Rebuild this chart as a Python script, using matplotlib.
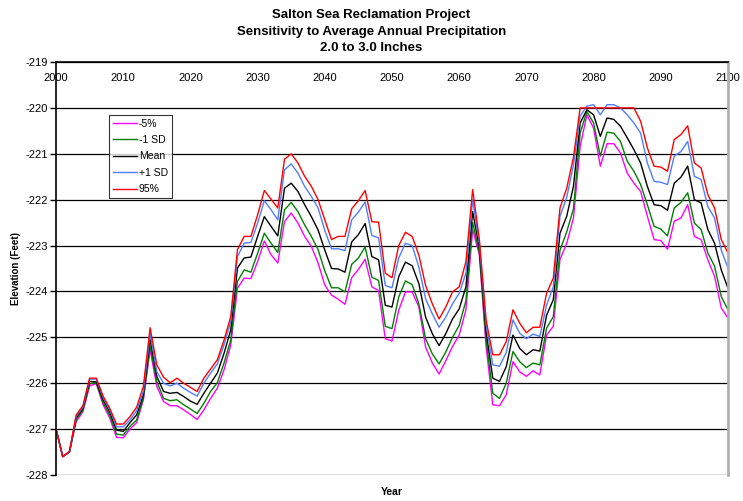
import numpy as np
import matplotlib
matplotlib.use("Agg")
import matplotlib.pyplot as plt

plt.rcParams['font.family'] = ['Liberation Sans', 'DejaVu Sans']
plt.rcParams['axes.unicode_minus'] = False

years = list(range(2000, 2101))

# 95% (red)
p95 = [-227.0, -227.6, -227.48, -226.69, -226.49, -225.89, -225.89, -226.28, -226.55, -226.89,
       -226.89, -226.73, -226.52, -226.07, -224.79, -225.6, -225.87, -225.99, -225.89, -226.0,
       -226.09, -226.18, -225.89, -225.69, -225.49, -225.06, -224.55, -223.09, -222.8, -222.8,
       -222.33, -221.8, -221.99, -222.18, -221.12, -221.0, -221.2, -221.49, -221.71, -222.0,
       -222.44, -222.87, -222.8, -222.8, -222.2, -222.02, -221.8, -222.48, -222.49, -223.6,
       -223.7, -223.0, -222.71, -222.8, -223.21, -223.87, -224.27, -224.6, -224.34, -224.01,
       -223.9, -223.35, -221.78, -222.87, -224.62, -225.38, -225.38, -225.09, -224.4, -224.69,
       -224.9, -224.78, -224.78, -224.04, -223.71, -222.18, -221.75, -221.08, -220.0, -220.0,
       -220.0, -220.0, -220.0, -220.0, -220.0, -220.0, -220.0, -220.29, -220.87, -221.27,
       -221.29, -221.38, -220.69, -220.58, -220.39, -221.2, -221.31, -221.89, -222.18, -222.87,
       -223.16]

# +1 SD (blue)
plus_sd = [-227.0, -227.6, -227.49, -226.72, -226.52, -225.91, -225.91, -226.31, -226.58, -226.95,
           -226.95, -226.8, -226.6, -226.18, -224.91, -225.75, -226.0, -226.06, -226.0, -226.11,
           -226.2, -226.28, -226.0, -225.78, -225.58, -225.16, -224.66, -223.24, -222.95, -222.93,
           -222.51, -222.02, -222.22, -222.44, -221.35, -221.22, -221.42, -221.71, -221.93, -222.18,
           -222.67, -223.07, -223.07, -223.11, -222.44, -222.27, -222.05, -222.78, -222.83, -223.87,
           -223.92, -223.27, -222.95, -223.0, -223.47, -224.16, -224.49, -224.78, -224.56, -224.27,
           -224.04, -223.6, -222.0, -222.95, -224.72, -225.6, -225.63, -225.33, -224.62, -224.91,
           -225.03, -224.93, -224.98, -224.3, -223.9, -222.36, -221.95, -221.25, -220.18, -219.96,
           -219.93, -220.15, -219.93, -219.93, -220.0, -220.15, -220.33, -220.55, -221.2, -221.6,
           -221.62, -221.67, -221.05, -220.95, -220.73, -221.49, -221.56, -222.15, -222.4, -223.1,
           -223.49]

# Mean (black)
mean = [-227.0, -227.6, -227.5, -226.75, -226.55, -225.96, -225.97, -226.36, -226.63, -227.02,
        -227.05, -226.86, -226.69, -226.25, -225.04, -225.85, -226.18, -226.22, -226.2, -226.29,
        -226.39, -226.46, -226.22, -226.0, -225.78, -225.35, -224.84, -223.49, -223.27, -223.25,
        -222.8, -222.37, -222.58, -222.79, -221.75, -221.64, -221.82, -222.11, -222.37, -222.66,
        -223.1, -223.5, -223.51, -223.58, -222.92, -222.76, -222.52, -223.24, -223.31, -224.3,
        -224.34, -223.68, -223.36, -223.44, -223.83, -224.56, -224.92, -225.18, -224.92, -224.6,
        -224.38, -223.9, -222.26, -223.05, -224.88, -225.89, -225.96, -225.64, -224.95, -225.24,
        -225.38, -225.27, -225.3, -224.52, -224.18, -222.73, -222.36, -221.71, -220.33, -220.04,
        -220.15, -220.62, -220.22, -220.25, -220.4, -220.65, -220.91, -221.2, -221.71, -222.11,
        -222.13, -222.23, -221.64, -221.51, -221.27, -222.0, -222.07, -222.65, -222.95, -223.53,
        -223.93]

# -1 SD (green)
minus_sd = [-227.0, -227.6, -227.5, -226.79, -226.59, -226.01, -225.99, -226.42, -226.7, -227.11,
            -227.13, -226.94, -226.8, -226.32, -225.19, -225.96, -226.33, -226.38, -226.36, -226.47,
            -226.56, -226.66, -226.44, -226.18, -225.99, -225.56, -225.06, -223.78, -223.53, -223.58,
            -223.17, -222.73, -222.95, -223.15, -222.22, -222.06, -222.26, -222.55, -222.8, -223.09,
            -223.55, -223.92, -223.92, -224.01, -223.41, -223.27, -223.03, -223.69, -223.76, -224.76,
            -224.81, -224.12, -223.77, -223.85, -224.27, -225.03, -225.36, -225.58, -225.32, -225.0,
            -224.74, -224.2, -222.5, -223.15, -225.05, -226.22, -226.33, -226.0, -225.31, -225.53,
            -225.66, -225.56, -225.6, -224.8, -224.55, -223.1, -222.7, -222.2, -220.55, -220.08,
            -220.33, -221.05, -220.53, -220.55, -220.73, -221.16, -221.38, -221.67, -222.11, -222.58,
            -222.64, -222.79, -222.18, -222.06, -221.85, -222.51, -222.65, -223.16, -223.45, -224.11,
            -224.4]

# -5% (magenta)
p05 = [-227.0, -227.6, -227.5, -226.84, -226.62, -226.06, -226.01, -226.47, -226.76, -227.18,
       -227.19, -227.0, -226.86, -226.36, -225.27, -226.07, -226.4, -226.49, -226.49, -226.58,
       -226.68, -226.79, -226.58, -226.33, -226.11, -225.71, -225.17, -223.93, -223.71, -223.72,
       -223.35, -222.9, -223.2, -223.38, -222.48, -222.29, -222.51, -222.8, -223.02, -223.38,
       -223.86, -224.08, -224.17, -224.28, -223.7, -223.52, -223.3, -223.9, -223.98, -225.03,
       -225.08, -224.41, -224.01, -224.01, -224.34, -225.21, -225.56, -225.8, -225.51, -225.2,
       -224.95, -224.4, -222.65, -223.2, -225.2, -226.47, -226.49, -226.25, -225.53, -225.75,
       -225.85, -225.73, -225.82, -224.95, -224.76, -223.3, -222.95, -222.4, -220.84, -220.15,
       -220.44, -221.27, -220.78, -220.78, -220.98, -221.42, -221.64, -221.82, -222.36, -222.87,
       -222.89, -223.08, -222.47, -222.4, -222.11, -222.8, -222.87, -223.31, -223.67, -224.36,
       -224.58]

series = [("-5%", p05, "#ff00ff"),
          ("-1 SD", minus_sd, "#008000"),
          ("Mean", mean, "#000000"),
          ("+1 SD", plus_sd, "#4f7fff"),
          ("95%", p95, "#ff0000")]

fig = plt.figure(figsize=(7.43, 5.01), dpi=100)
ax = fig.add_axes([0.0754, 0.0519, 0.9044, 0.8243])

for yv in range(-228, -218):
    ax.axhline(yv, color="black", lw=0.9, zorder=1)

for name, vals, col in series:
    ax.plot(years, vals, color=col, lw=1.0, label=name, zorder=2)

ax.set_xlim(2000, 2100)
ax.set_ylim(-228, -219)
ax.set_xticks(range(2000, 2101, 10))
ax.set_yticks(range(-228, -218))
ax.xaxis.tick_top()
ax.tick_params(axis="x", length=0, pad=-15, labelsize=8)
ax.tick_params(axis="y", length=4, width=1, labelsize=8, pad=2)

for s in ["top", "left"]:
    ax.spines[s].set_color("black")
    ax.spines[s].set_linewidth(1.2)
ax.spines["bottom"].set_visible(False)
ax.spines["right"].set_color("#b0b0b0")
ax.spines["right"].set_linewidth(2)

ax.set_ylabel("Elevation (Feet)", fontsize=7, fontweight="bold")
ax.yaxis.set_label_coords(-0.052, 0.5)
fig.text(0.527, 0.012, "Year", fontsize=7.5, fontweight="bold", ha="center")

fig.text(0.5, 0.982, "Salton Sea Reclamation Project\nSensitivity to Average Annual Precipitation\n2.0 to 3.0 Inches",
         ha="center", va="top", fontsize=9.5, fontweight="bold", linespacing=1.5)

leg = ax.legend(loc="upper left", bbox_to_anchor=(0.079, 0.872), borderaxespad=0,
                fontsize=7.5, frameon=True, fancybox=False, handlelength=2.3,
                handletextpad=0.2, labelspacing=0.62, borderpad=0.35)
leg.get_frame().set_edgecolor("black")
leg.get_frame().set_linewidth(0.8)

fig.savefig("out.png", dpi=100)
